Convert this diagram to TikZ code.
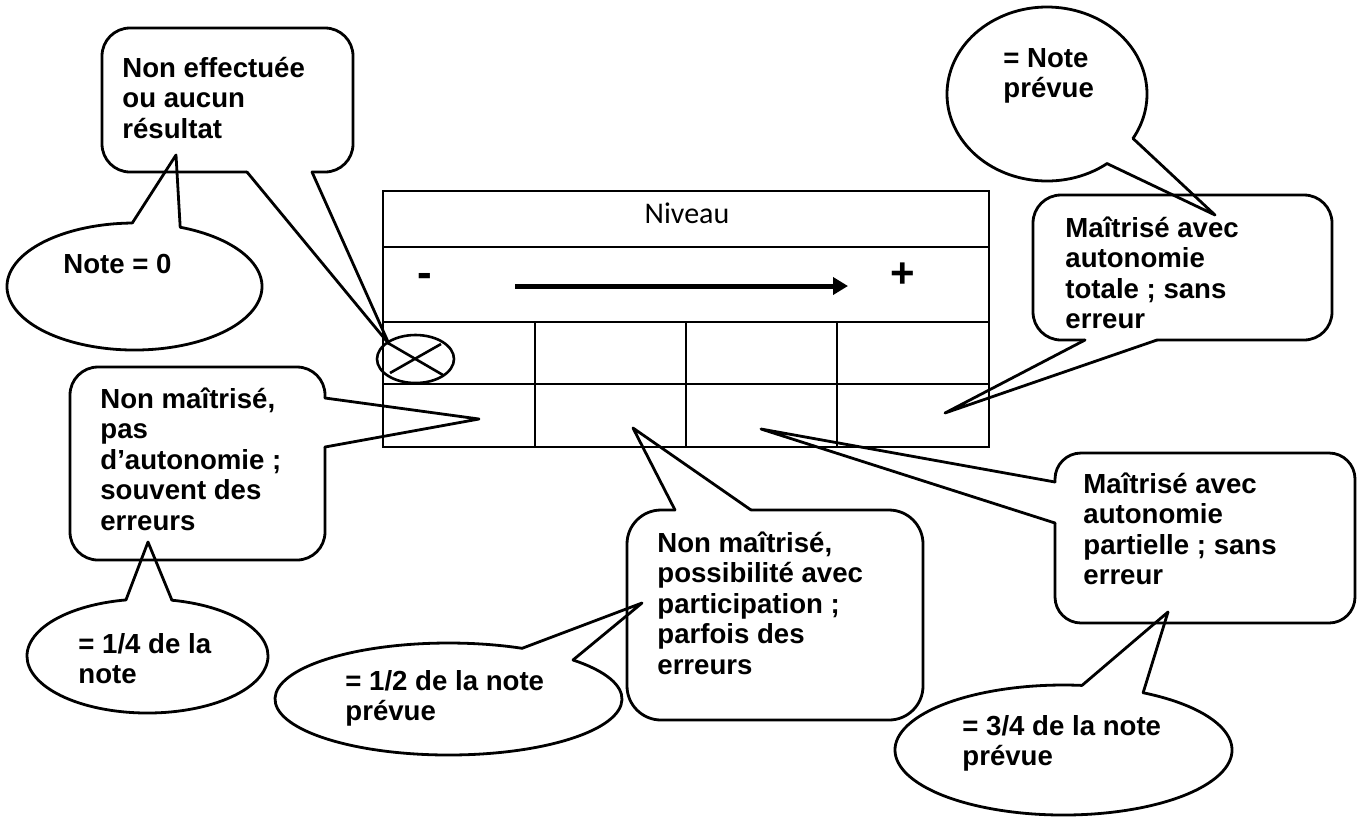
\documentclass[tikz,border=0pt]{standalone}
\usepackage{fontspec}
\setmainfont{Liberation Sans}
\newfontfamily\carlito{Carlito}
\usetikzlibrary{arrows.meta}
\newcommand\fs{\rule{0pt}{13pt}}
\begin{document}
\begin{tikzpicture}[x=0.5pt,y=-0.5pt,
  co/.style={line width=1.4pt, line join=round, line cap=round},
  tb/.style={line width=1pt},
  xl/.style={line width=1.3pt},
  lbl/.style={anchor=north west, inner sep=0pt, align=left,
    font=\fontsize{13.8pt}{15.2pt}\selectfont\bfseries}]
\useasboundingbox (0,0) rectangle (1358,816);

% ---------- table ----------
\draw[tb] (383,191) rectangle (989,447);
\draw[tb] (383,247) -- (989,247);
\draw[tb] (383,322) -- (989,322);
\draw[tb] (383,384) -- (989,384);
\draw[tb] (535,322) -- (535,447);
\draw[tb] (686,322) -- (686,447);
\draw[tb] (837,322) -- (837,447);
\node[font=\carlito\fontsize{15pt}{18pt}\selectfont, inner sep=0pt] (niv) at (687,213) {Niveau};
\node[font=\bfseries\fontsize{22pt}{24pt}\selectfont, inner sep=0pt, anchor=base] (minus) at (425,287) {-};
\node[font=\bfseries\fontsize{21pt}{24pt}\selectfont, inner sep=0pt, anchor=base] (plus) at (903,287) {+};
\coordinate (arA) at (515,286);
\coordinate (arB) at (848,286);
\draw[line width=2.5pt, -{Triangle[length=7.5pt,width=8.5pt]}] (arA) -- (arB);
% crossed circle
\draw[xl] (415.5,359) ellipse [x radius=38.5, y radius=24];
\draw[xl] (388,343) -- (443,375);
\draw[xl] (390,373) -- (441,344);

% ---------- callout 1 : Non effectuee ----------
\coordinate (t1) at (389,344);
\coordinate (b1a) at (247,172);
\coordinate (b1b) at (312,172);
\draw[co, rounded corners=14pt] (b1b) -- (353,172) -- (353,28) -- (102,28) -- (102,172) -- (b1a);
\draw[co] (b1a) -- (t1) -- (b1b);
\node[lbl] (n1) at (122,51) {\fs Non effectuée\\ou aucun\\résultat};

% ---------- ellipse A : Note = 0 ----------
\coordinate (tA) at (176,155);
\path (134.5,286.5) ++(-91:127.5 and 63.5) coordinate (aA1);
\path (134.5,286.5) ++(-69:127.5 and 63.5) coordinate (aA2);
\draw[co] (aA2) arc[start angle=-69, end angle=269, x radius=127.5, y radius=63.5];
\draw[co] (aA1) -- (tA) -- (aA2);
\node[lbl] (nA) at (63,247) {\fs Note = 0};

% ---------- callout 3 : Non maitrise, pas d'autonomie ----------
\coordinate (t3) at (479,419);
\coordinate (b3a) at (325,398);
\coordinate (b3b) at (325,447);
\draw[co, rounded corners=14pt] (b3b) -- (325,560) -- (70,560) -- (70,367) -- (325,367) -- (b3a);
\draw[co] (b3a) -- (t3) -- (b3b);
\node[lbl] (n3) at (100,382) {\fs Non maîtrisé,\\pas\\d’autonomie ;\\souvent des\\erreurs};

% ---------- ellipse B : = 1/4 de la note ----------
\coordinate (tB) at (148,542);
\path (147.5,656) ++(-100.3:120.5 and 57) coordinate (aB1);
\path (147.5,656) ++(-78.3:120.5 and 57) coordinate (aB2);
\draw[co] (aB2) arc[start angle=-78.3, end angle=259.7, x radius=120.5, y radius=57];
\draw[co] (aB1) -- (tB) -- (aB2);
\node[lbl] (nB) at (78,627) {\fs = 1/4 de la\\note};

% ---------- ellipse C : = 1/2 de la note prevue ----------
\coordinate (tC) at (642,603);
\path (448.5,699) ++(-64.9:173.5 and 56) coordinate (aC1);
\path (448.5,699) ++(-44.15:173.5 and 56) coordinate (aC2);
\draw[co] (aC2) arc[start angle=-44.15, end angle=295.1, x radius=173.5, y radius=56];
\draw[co] (aC1) -- (tC) -- (aC2);
\node[lbl] (nC) at (345,664) {\fs = 1/2 de la note\\prévue};

% ---------- callout 6 : Non maitrise, possibilite ----------
\coordinate (t6) at (633,428);
\coordinate (b6a) at (675,510);
\coordinate (b6b) at (751,510);
\draw[co, rounded corners=17pt] (b6b) -- (923,510) -- (923,720) -- (627,720) -- (627,510) -- (b6a);
\draw[co] (b6a) -- (t6) -- (b6b);
\node[lbl] (n6) at (657,526) {\fs Non maîtrisé,\\possibilité avec\\participation ;\\parfois des\\erreurs};

% ---------- callout 7 : Maitrise avec autonomie partielle ----------
\coordinate (t7) at (761,429);
\coordinate (b7a) at (1055,482);
\coordinate (b7b) at (1055,523);
\draw[co, rounded corners=13pt] (b7a) -- (1055,453) -- (1355,453) -- (1355,623) -- (1055,623) -- (b7b);
\draw[co] (b7a) -- (t7) -- (b7b);
\node[lbl] (n7) at (1083,467) {\fs Maîtrisé avec\\autonomie\\partielle ; sans\\erreur};

% ---------- ellipse E : = 3/4 de la note prevue ----------
\coordinate (tE) at (1168,612);
\path (1063.5,750) ++(-83.7:168.5 and 65) coordinate (aE1);
\path (1063.5,750) ++(-61.8:168.5 and 65) coordinate (aE2);
\draw[co] (aE2) arc[start angle=-61.8, end angle=276.3, x radius=168.5, y radius=65];
\draw[co] (aE1) -- (tE) -- (aE2);
\node[lbl] (nE) at (962,709) {\fs = 3/4 de la note\\prévue};

% ---------- callout 8 : Maitrise avec autonomie totale ----------
\coordinate (t8) at (945,413);
\coordinate (b8a) at (1085,340);
\coordinate (b8b) at (1157,340);
\draw[co, rounded corners=14pt] (b8b) -- (1332,340) -- (1332,195) -- (1033,195) -- (1033,340) -- (b8a);
\draw[co] (b8a) -- (t8) -- (b8b);
\node[lbl] (n8) at (1065,211) {\fs Maîtrisé avec\\autonomie\\totale ; sans\\erreur};

% ---------- ellipse D : = Note prevue ----------
\coordinate (tD) at (1215,215);
\path (1047,94) ++(30.7:100 and 87) coordinate (aD1);
\path (1047,94) ++(53.1:100 and 87) coordinate (aD2);
\draw[co] (aD2) arc[start angle=53.1, end angle=390.7, x radius=100, y radius=87];
\draw[co] (aD1) -- (tD) -- (aD2);
\node[lbl] (nD) at (1003,41) {\fs = Note\\prévue};
\end{tikzpicture}
\end{document}
